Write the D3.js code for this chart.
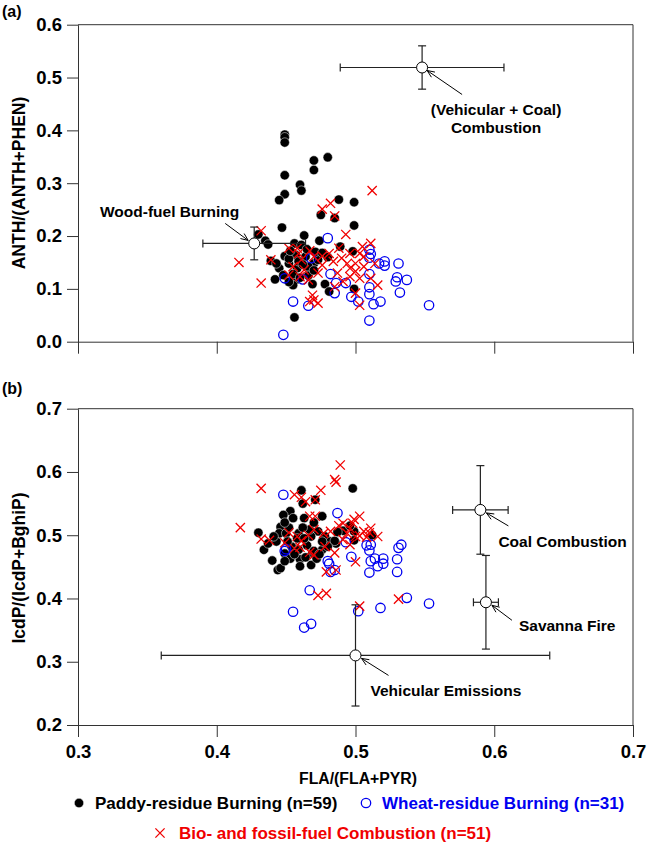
<!DOCTYPE html>
<html>
<head>
<meta charset="utf-8">
<script src="https://cdn.jsdelivr.net/npm/d3@7"></script>
<style>
  body { margin: 0; background: #fff; }
  text { font-family: "Liberation Sans", Arial, sans-serif; font-weight: bold; }
</style>
</head>
<body>
<svg id="chart" width="648" height="844"></svg>
<script>
// tick values
const xTicks = [0.3, 0.4, 0.5, 0.6, 0.7];
const yTicksA = [0.0, 0.1, 0.2, 0.3, 0.4, 0.5, 0.6];
const yTicksB = [0.2, 0.3, 0.4, 0.5, 0.6, 0.7];

// (a) FLA/(FLA+PYR) vs ANTH/(ANTH+PHEN)
const paddyA = [
  [0.449,0.392],[0.449,0.387],[0.449,0.377],[0.480,0.349],[0.470,0.343],[0.470,0.325],
  [0.449,0.315],[0.460,0.297],[0.461,0.286],[0.449,0.279],[0.445,0.268],[0.488,0.269],
  [0.499,0.264],[0.475,0.240],[0.485,0.234],[0.499,0.220],[0.447,0.216],[0.430,0.203],
  [0.435,0.191],[0.437,0.184],[0.463,0.201],[0.456,0.186],[0.461,0.183],[0.474,0.191],
  [0.489,0.180],[0.498,0.171],[0.449,0.162],[0.457,0.164],[0.464,0.161],[0.470,0.148],
  [0.452,0.148],[0.439,0.153],[0.445,0.139],[0.458,0.139],[0.466,0.142],[0.442,0.118],
  [0.457,0.117],[0.455,0.107],[0.469,0.109],[0.478,0.109],[0.481,0.095],[0.499,0.100],
  [0.456,0.046],[0.473,0.155],[0.452,0.157],[0.459,0.152],[0.462,0.146],[0.455,0.128],
  [0.448,0.126],[0.466,0.125],[0.470,0.135],[0.443,0.148],[0.465,0.175],[0.471,0.170],
  [0.453,0.172],[0.476,0.168],[0.460,0.121],[0.480,0.160],[0.452,0.113]
];
const wheatA = [
  [0.480,0.196],[0.510,0.174],[0.510,0.159],[0.517,0.148],[0.521,0.152],[0.521,0.144],
  [0.531,0.148],[0.468,0.158],[0.449,0.120],[0.462,0.118],[0.482,0.128],[0.486,0.111],
  [0.493,0.111],[0.485,0.092],[0.497,0.085],[0.502,0.076],[0.513,0.071],[0.518,0.076],
  [0.510,0.128],[0.510,0.103],[0.510,0.090],[0.529,0.114],[0.530,0.122],[0.537,0.117],
  [0.532,0.093],[0.553,0.069],[0.510,0.040],[0.455,0.076],[0.466,0.068],[0.448,0.013],
  [0.511,0.166]
];
const bioA = [
  [0.512,0.286],[0.482,0.262],[0.476,0.251],[0.485,0.238],[0.493,0.203],[0.432,0.210],
  [0.416,0.150],[0.432,0.111],[0.439,0.155],[0.452,0.177],[0.459,0.167],[0.467,0.172],
  [0.476,0.162],[0.481,0.167],[0.488,0.177],[0.496,0.167],[0.505,0.180],[0.511,0.186],
  [0.500,0.148],[0.506,0.142],[0.496,0.139],[0.500,0.133],[0.496,0.123],[0.503,0.120],
  [0.511,0.120],[0.514,0.148],[0.516,0.107],[0.503,0.069],[0.500,0.092],[0.469,0.088],
  [0.470,0.079],[0.473,0.073],[0.467,0.076],[0.463,0.136],[0.460,0.123],[0.466,0.117],
  [0.473,0.130],[0.476,0.145],[0.470,0.161],[0.461,0.155],[0.455,0.142],[0.452,0.126],
  [0.484,0.152],[0.490,0.158],[0.494,0.148],[0.487,0.130],[0.491,0.114],[0.485,0.104],
  [0.506,0.161],[0.503,0.167],[0.458,0.177]
];
const sourcesA = [
  { label: ["Wood-fuel Burning"], x: 0.427, xErr: 0.037, y: 0.186, yErr: 0.031 },
  { label: ["(Vehicular + Coal)", "Combustion"], x: 0.548, xErr: 0.059, y: 0.519, yErr: 0.041 }
];

// (b) FLA/(FLA+PYR) vs IcdP/(IcdP+BghiP)
const paddyB = [
  [0.461,0.571],[0.498,0.574],[0.462,0.550],[0.471,0.556],[0.453,0.538],[0.448,0.532],
  [0.463,0.527],[0.476,0.530],[0.430,0.504],[0.434,0.477],[0.437,0.487],[0.440,0.460],
  [0.444,0.445],[0.446,0.448],[0.446,0.513],[0.445,0.503],[0.450,0.503],[0.459,0.503],
  [0.465,0.484],[0.473,0.506],[0.478,0.498],[0.482,0.490],[0.468,0.498],[0.449,0.471],
  [0.453,0.463],[0.460,0.462],[0.460,0.451],[0.468,0.453],[0.469,0.472],[0.476,0.477],
  [0.454,0.482],[0.459,0.477],[0.486,0.487],[0.491,0.507],[0.499,0.506],[0.499,0.492],
  [0.512,0.500],[0.452,0.512],[0.458,0.495],[0.449,0.459],[0.470,0.475],[0.467,0.509],
  [0.485,0.491],[0.443,0.490],[0.456,0.470],[0.464,0.465],[0.472,0.463],[0.441,0.498],
  [0.449,0.520],[0.455,0.527],[0.462,0.512],[0.470,0.520],[0.474,0.470],[0.480,0.482],
  [0.487,0.505],[0.496,0.515],[0.451,0.490],[0.463,0.495],[0.476,0.490]
];
const wheatB = [
  [0.448,0.564],[0.487,0.535],[0.493,0.489],[0.449,0.475],[0.480,0.459],[0.481,0.455],
  [0.482,0.442],[0.485,0.445],[0.497,0.466],[0.508,0.484],[0.511,0.485],[0.510,0.476],
  [0.511,0.459],[0.510,0.441],[0.514,0.463],[0.516,0.451],[0.520,0.463],[0.520,0.455],
  [0.530,0.462],[0.530,0.442],[0.531,0.480],[0.533,0.485],[0.537,0.401],[0.553,0.392],
  [0.518,0.385],[0.502,0.380],[0.467,0.413],[0.455,0.379],[0.463,0.354],[0.468,0.360],
  [0.450,0.478]
];
const bioB = [
  [0.489,0.611],[0.485,0.588],[0.486,0.584],[0.432,0.574],[0.456,0.564],[0.475,0.571],
  [0.471,0.556],[0.464,0.553],[0.461,0.560],[0.417,0.512],[0.432,0.494],[0.438,0.492],
  [0.467,0.530],[0.471,0.530],[0.458,0.498],[0.466,0.500],[0.456,0.479],[0.470,0.469],
  [0.477,0.503],[0.478,0.482],[0.485,0.472],[0.491,0.519],[0.498,0.519],[0.503,0.530],
  [0.500,0.498],[0.506,0.506],[0.511,0.511],[0.516,0.498],[0.494,0.503],[0.500,0.458],
  [0.479,0.442],[0.486,0.445],[0.473,0.405],[0.479,0.408],[0.503,0.388],[0.531,0.399],
  [0.496,0.511],[0.452,0.504],[0.461,0.491],[0.470,0.509],[0.482,0.506],[0.467,0.473],
  [0.491,0.493],[0.496,0.485],[0.503,0.499],[0.508,0.497],[0.460,0.481],[0.449,0.488],
  [0.488,0.515],[0.499,0.525],[0.510,0.504]
];
const sourcesB = [
  { label: ["Coal Combustion"], x: 0.590, xErr: 0.020, y: 0.540, yErr: 0.070 },
  { label: ["Savanna Fire"], x: 0.594, xErr: 0.009, y: 0.394, yErr: 0.074 },
  { label: ["Vehicular Emissions"], x: 0.500, xErr: 0.140, y: 0.310, yErr: 0.080 }
];

const legendItems = [
  { name: "Paddy-residue Burning (n=59)", kind: "paddy", color: "#000" },
  { name: "Wheat-residue Burning (n=31)", kind: "wheat", color: "#0000f0" },
  { name: "Bio- and fossil-fuel Combustion (n=51)", kind: "bio", color: "#f00000" }
];

const svg = d3.select("#chart");
const plotLeft = 78, plotRight = 633;
const axisColor = "#333";

const x = d3.scaleLinear().domain([0.3, 0.7]).range([plotLeft, plotRight]);

// label placement relative to the source marker, pixels
const labelLayout = {
  "Wood-fuel Burning":   { anchor: "end",    dx: -15, dy: -26, from: [-29, -20], to: [-6, -3] },
  "(Vehicular + Coal)":  { anchor: "middle", dx: 74,  dy: 48,  from: [40, 27],   to: [5, 3] },
  "Coal Combustion":     { anchor: "start",  dx: 18,  dy: 37,  from: [28, 16],   to: [6, 3] },
  "Savanna Fire":        { anchor: "start",  dx: 33,  dy: 29,  from: [26, 18],   to: [6, 3] },
  "Vehicular Emissions": { anchor: "start",  dx: 15,  dy: 41,  from: [33, 20],   to: [6, 3] }
};

function drawMarker(g, kind, cx, cy) {
  if (kind === "paddy") {
    g.append("circle").attr("cx", cx).attr("cy", cy).attr("r", 4.7)
      .attr("fill", "#000").attr("stroke", "#fff").attr("stroke-width", 0.5);
  } else if (kind === "wheat") {
    g.append("circle").attr("cx", cx).attr("cy", cy).attr("r", 4.7)
      .attr("fill", "none").attr("stroke", "#0000f0").attr("stroke-width", 1.3);
  } else {
    g.append("path").attr("transform", `translate(${cx},${cy})`)
      .attr("d", "M-4.6,-4.6L4.6,4.6M-4.6,4.6L4.6,-4.6")
      .attr("stroke", "#f00000").attr("stroke-width", 1.3).attr("fill", "none");
  }
}

function drawPanel(opts) {
  const y = d3.scaleLinear().domain(opts.yDomain).range([opts.bottom, opts.top]);
  const g = svg.append("g");

  // frame
  g.append("line").attr("x1", plotLeft).attr("x2", plotRight)
    .attr("y1", opts.top).attr("y2", opts.top).attr("stroke", axisColor);
  g.append("line").attr("x1", plotRight).attr("x2", plotRight)
    .attr("y1", opts.top).attr("y2", opts.bottom).attr("stroke", axisColor);

  const yAxis = g.append("g").attr("transform", `translate(${plotLeft},0)`)
    .call(d3.axisLeft(y).tickValues(opts.yTicks).tickFormat(d3.format(".1f"))
      .tickSize(11).tickSizeOuter(0).tickPadding(5));
  const xAxis = g.append("g").attr("transform", `translate(0,${opts.bottom})`)
    .call(d3.axisBottom(x).tickValues(xTicks)
      .tickFormat(opts.xLabels ? d3.format(".1f") : "")
      .tickSize(12).tickSizeOuter(0).tickPadding(8));
  [yAxis, xAxis].forEach(a => {
    a.selectAll("path, line").attr("stroke", axisColor);
    a.selectAll("text").attr("font-size", 18.5).attr("fill", "#000")
      .attr("font-family", "Liberation Sans, Arial, sans-serif").attr("font-weight", "bold");
  });

  // y title
  g.append("text")
    .attr("transform", `translate(25,${opts.titleY}) rotate(-90)`)
    .attr("text-anchor", "middle").attr("font-size", 17.5)
    .text(opts.yTitle);

  // panel letter
  g.append("text").attr("x", 2).attr("y", opts.letterY)
    .attr("font-size", 16).text(opts.letter);

  // points: paddy, wheat, then bio on top
  const pts = g.append("g");
  opts.paddy.forEach(d => drawMarker(pts, "paddy", x(d[0]), y(d[1])));
  opts.wheat.forEach(d => drawMarker(pts, "wheat", x(d[0]), y(d[1])));
  opts.bio.forEach(d => drawMarker(pts, "bio", x(d[0]), y(d[1])));

  // source signatures with error bars
  opts.sources.forEach(s => {
    const cx = x(s.x), cy = y(s.y);
    const x0 = x(s.x - s.xErr), x1 = x(s.x + s.xErr);
    const y0 = y(s.y - s.yErr), y1 = y(s.y + s.yErr);
    const eb = g.append("g").attr("stroke", "#222").attr("stroke-width", 1.2);
    eb.append("line").attr("x1", x0).attr("x2", x1).attr("y1", cy).attr("y2", cy);
    eb.append("line").attr("x1", cx).attr("x2", cx).attr("y1", y0).attr("y2", y1);
    [x0, x1].forEach(v => eb.append("line").attr("x1", v).attr("x2", v)
      .attr("y1", cy - 4).attr("y2", cy + 4));
    [y0, y1].forEach(v => eb.append("line").attr("y1", v).attr("y2", v)
      .attr("x1", cx - 4).attr("x2", cx + 4));
    g.append("circle").attr("cx", cx).attr("cy", cy).attr("r", 5.5)
      .attr("fill", "#fff").attr("stroke", "#000").attr("stroke-width", 1);

    const L = labelLayout[s.label[0]];
    const t = g.append("text").attr("font-size", 15.5).attr("text-anchor", L.anchor);
    s.label.forEach((line, i) => {
      t.append("tspan").attr("x", cx + L.dx).attr("y", cy + L.dy + i * 18).text(line);
    });

    // arrow
    const ax0 = cx + L.from[0], ay0 = cy + L.from[1];
    const ax1 = cx + L.to[0], ay1 = cy + L.to[1];
    const ang = Math.atan2(ay1 - ay0, ax1 - ax0);
    const head = 8, spread = 0.4;
    const hx1 = ax1 - head * Math.cos(ang - spread), hy1 = ay1 - head * Math.sin(ang - spread);
    const hx2 = ax1 - head * Math.cos(ang + spread), hy2 = ay1 - head * Math.sin(ang + spread);
    g.append("path")
      .attr("d", `M${ax0},${ay0}L${ax1},${ay1}M${hx1},${hy1}L${ax1},${ay1}L${hx2},${hy2}`)
      .attr("stroke", "#000").attr("stroke-width", 1).attr("fill", "none");
  });
}

drawPanel({
  letter: "(a)", letterY: 17, top: 24.7, bottom: 341.7,
  yDomain: [0, 0.6], yTicks: yTicksA, xLabels: false,
  yTitle: "ANTH/(ANTH+PHEN)", titleY: 183,
  paddy: paddyA, wheat: wheatA, bio: bioA, sources: sourcesA
});
drawPanel({
  letter: "(b)", letterY: 394, top: 408.7, bottom: 725,
  yDomain: [0.2, 0.7], yTicks: yTicksB, xLabels: true,
  yTitle: "IcdP/(IcdP+BghiP)", titleY: 568,
  paddy: paddyB, wheat: wheatB, bio: bioB, sources: sourcesB
});

// x title
svg.append("text").attr("x", 358).attr("y", 784).attr("text-anchor", "middle")
  .attr("font-size", 15.8).text("FLA/(FLA+PYR)");

// legend
const legendPos = [
  { mx: 79, tx: 95, y: 809 },
  { mx: 366, tx: 382, y: 809 },
  { mx: 160, tx: 179, y: 839 }
];
const legend = svg.append("g");
legendItems.forEach((item, i) => {
  const p = legendPos[i];
  drawMarker(legend, item.kind, p.mx, p.y - 6);
  legend.append("text").attr("x", p.tx).attr("y", p.y)
    .attr("font-size", 17).attr("fill", item.color).text(item.name);
});
</script>
</body>
</html>
